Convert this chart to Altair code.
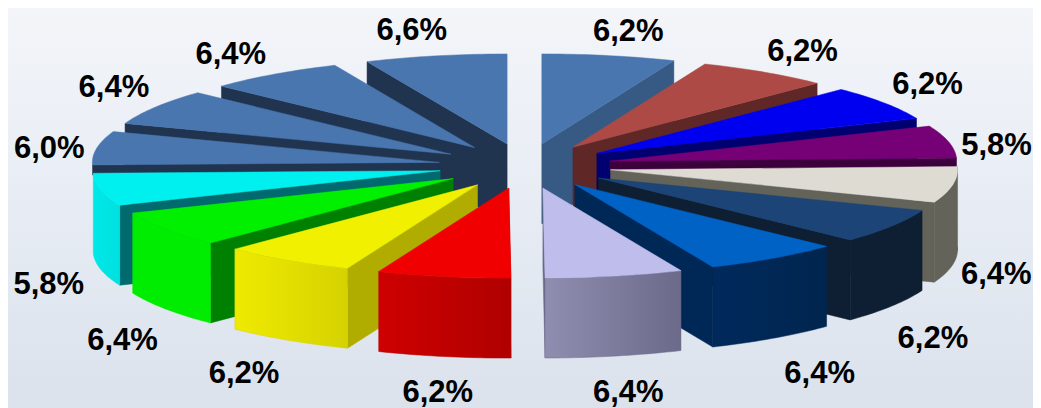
import math
import altair as alt
import pandas as pd

# Slices, clockwise from 12 o'clock
values = [6.2, 6.2, 6.2, 5.8, 6.4, 6.2, 6.4, 6.4, 6.2, 6.2, 6.4, 5.8, 6.0, 6.4, 6.4, 6.6]
top_colors = ["#4a76b0", "#ad4a46", "#0000f0", "#760076", "#dedbd2", "#1c4476", "#0062c4", "#bfbdec",
              "#f00000", "#f0f000", "#00f000", "#00f0f0", "#4a76b0", "#4a76b0", "#4a76b0", "#4a76b0"]
side_colors = ["#365a84", "#5f2726", "#000070", "#3c003c", "#636359", "#0e1e33", "#002856", "#6c6a8a",
               "#b00000", "#b0ac00", "#008000", "#006a6e", "#20344f", "#20344f", "#20344f", "#20344f"]
rim_left = ["#365a84", "#5f2726", "#000070", "#3c003c", "#636359", "#0e1e33", "#002a5c", "#908eb0",
            "#cf0000", "#efea00", "#00ec00", "#00e8e8", "#20344f", "#20344f", "#20344f", "#20344f"]
rim_right = ["#365a84", "#5f2726", "#000070", "#3c003c", "#636359", "#0e1e33", "#00264f", "#6c6a8a",
             "#b00000", "#d6d200", "#00ec00", "#00e0e0", "#20344f", "#20344f", "#20344f", "#20344f"]
bg_stops = [(0.0, "#f3f5f9"), (0.5, "#e7ecf4"), (1.0, "#dbe2ec")]

# Projection of the pie, in page pixels
CX, CY, RX, RY, EXPLODE, DEPTH = 525, 166, 347, 90, 0.25, 80
W, H = 1025, 400
label_rx, label_ry, label_cy = 486, 142, 172
# Fine placement of each label around its computed anchor
label_dx = [9, 9, 0, -3, -8, -3, 16, 3, 4, -15, 0, -1, 4, 3, -13, -13]
label_dy = [-1, -2, -7, 5, -1, 11, 6, 2, 2, 3, 9, 3, 0, -10, -1, -2]

total = sum(values)
edges = [0.0]
for v in values:
    edges.append(edges[-1] + v / total * 2 * math.pi)
edges[-1] = 2 * math.pi


def apex(mid):
    return (CX + EXPLODE * RX * math.sin(mid), CY - EXPLODE * RY * math.cos(mid))


def rim_pt(ap, t):
    return (ap[0] + RX * math.sin(t), ap[1] - RY * math.cos(t))


def down(p, d=DEPTH):
    return (p[0], p[1] + d)


def feature(pts):
    ring = [[p[0], p[1]] for p in pts] + [[pts[0][0], pts[0][1]]]
    return {"type": "Feature", "properties": {}, "geometry": {"type": "Polygon", "coordinates": [ring]}}


proj = dict(type="identity", scale=1, translate=[-8, -8])


def gradient(stops, x1, x2, y1, y2):
    return alt.LinearGradient(gradient="linear", x1=x1, x2=x2, y1=y1, y2=y2,
                              stops=[alt.GradientStop(offset=o, color=c) for o, c in stops])


def poly(pts, fill, stroke):
    return alt.Chart(alt.Data(values=[feature(pts)])).mark_geoshape(
        fill=fill, stroke=stroke, strokeWidth=0.5
    ).project(**proj)


background = alt.Chart(pd.DataFrame({"a": [0]})).mark_rect(
    fill=gradient(bg_stops, 0, 0, 0, 1)
).encode(x=alt.value(0), x2=alt.value(W), y=alt.value(0), y2=alt.value(H))

layers = [background]
order = sorted(range(len(values)), key=lambda i: min((edges[i] + edges[i + 1]) / 2,
                                                     2 * math.pi - (edges[i] + edges[i + 1]) / 2))
for i in order:
    t0, t1 = edges[i], edges[i + 1]
    mid = (t0 + t1) / 2
    ap = apex(mid)
    n = max(6, int((t1 - t0) / math.radians(1)))
    arc = [t0 + (t1 - t0) * k / n for k in range(n + 1)]
    rim = [rim_pt(ap, t) for t in arc]
    # radial wall facing the viewer
    edge_t = t1 if mid < math.pi else t0
    edge = rim[-1] if mid < math.pi else rim[0]
    # a wall lying almost side-on is only a thin band above the next slice
    d = 10 if abs(math.cos(edge_t)) < 0.1 and math.cos(mid) > 0 else DEPTH
    layers.append(poly([ap, edge, down(edge, d), down(ap, d)], side_colors[i], side_colors[i]))
    # outer wall, front half only
    if math.cos(mid) < 0:
        fill = gradient([(0, rim_left[i]), (1, rim_right[i])], 0, 1, 0, 0)
        pts = sorted(rim, key=lambda p: p[0])
        layers.append(poly(pts + [down(p) for p in reversed(pts)], fill, rim_right[i]))
    layers.append(poly([ap] + rim, top_colors[i], top_colors[i]))

rows = []
for i, v in enumerate(values):
    mid = (edges[i] + edges[i + 1]) / 2
    c = math.cos(mid)
    rows.append({"lon": CX + label_rx * math.sin(mid) + label_dx[i],
                 "lat": label_cy - label_ry * c + (DEPTH if c < 0 else 0) + label_dy[i],
                 "label": f"{v:.1f}%".replace(".", ",")})
labels = alt.Chart(pd.DataFrame(rows)).mark_text(
    font="Liberation Sans", fontWeight="bold", fontSize=31, color="#000000", align="center", baseline="middle"
).encode(longitude=alt.Longitude("lon:Q"), latitude=alt.Latitude("lat:Q"), text="label:N").project(**proj)
layers.append(labels)

chart = alt.layer(*layers).properties(
    width=W, height=H, padding=0, autosize=alt.AutoSizeParams(type="none")
).configure_view(stroke=None)

chart.save("out.html", embed_options={"renderer": "svg", "actions": False})
